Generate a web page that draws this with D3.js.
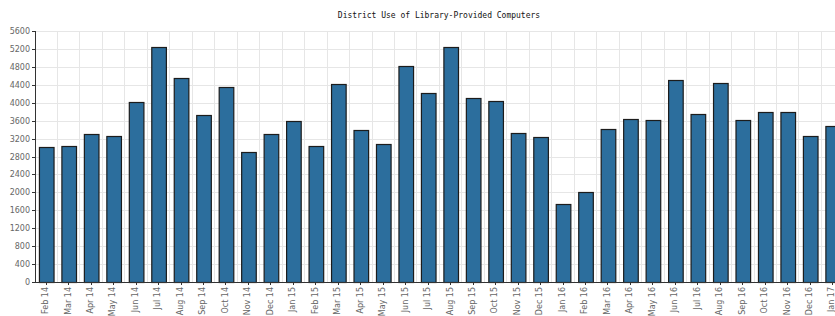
<!DOCTYPE html>
<html>
<head>
<meta charset="utf-8">
<script src="https://cdn.jsdelivr.net/npm/d3@7"></script>
<style>
    body { margin: 0; background: #fff; overflow: hidden; }
    .grid line { stroke: #e6e6e6; }
    .grid path { display: none; }
    .axis text { fill: #666; font-family: "DejaVu Sans", sans-serif; font-size: 8px; }
    .axis path, .axis line { stroke: #333; }
</style>
</head>
<body>
<div id="graph"></div>
<script>
document.addEventListener('DOMContentLoaded', () => {
    const title = 'District Use of Library-Provided Computers';
    const months = ['Feb 14', 'Mar 14', 'Apr 14', 'May 14', 'Jun 14', 'Jul 14', 'Aug 14', 'Sep 14',
        'Oct 14', 'Nov 14', 'Dec 14', 'Jan 15', 'Feb 15', 'Mar 15', 'Apr 15', 'May 15', 'Jun 15',
        'Jul 15', 'Aug 15', 'Sep 15', 'Oct 15', 'Nov 15', 'Dec 15', 'Jan 16', 'Feb 16', 'Mar 16',
        'Apr 16', 'May 16', 'Jun 16', 'Jul 16', 'Aug 16', 'Sep 16', 'Oct 16', 'Nov 16', 'Dec 16', 'Jan 17'];
    const usage = [3010, 3035, 3300, 3265, 4015, 5235, 4545, 3735, 4345, 2895, 3300, 3585,
        3030, 4410, 3390, 3070, 4825, 4210, 5235, 4110, 4030, 3315, 3230, 1740,
        2015, 3405, 3635, 3620, 4500, 3750, 4450, 3605, 3785, 3785, 3250, 3480];
    const yTicks = d3.range(0, 5601, 400);

    const width = 835;
    const height = 316;
    const margin = { top: 31, left: 35, bottom: 34 };
    const plotRight = margin.left + 36 * 22.47; // runs past the window edge

    const xScale = d3.scaleBand()
        .domain(months)
        .range([margin.left, plotRight])
        .paddingInner(0.35)
        .paddingOuter(0.175);

    const yScale = d3.scaleLinear()
        .domain([0, 5600])
        .range([height - margin.bottom, margin.top]);

    const svg = d3.select('#graph')
        .append('svg')
        .attr('width', width)
        .attr('height', height);

    // vertical grid at band edges
    const edge = d => xScale(d) - xScale.step() * xScale.paddingInner() / 2 + xScale.step();
    svg.append('g')
        .attr('class', 'grid')
        .selectAll('line')
        .data(months)
        .enter()
        .append('line')
        .attr('x1', edge)
        .attr('x2', edge)
        .attr('y1', yScale(5600))
        .attr('y2', yScale(0))
        .attr('stroke', '#e6e6e6')
        .attr('shape-rendering', 'crispEdges');

    svg.append('g')
        .attr('class', 'grid')
        .attr('transform', `translate(${margin.left}, 0)`)
        .call(d3.axisLeft(yScale).tickValues(yTicks).tickSize(-(plotRight - margin.left)).tickFormat(''))
        .attr('shape-rendering', 'crispEdges');

    svg.append('g')
        .selectAll('rect')
        .data(usage)
        .enter()
        .append('rect')
        .attr('x', (_d, i) => xScale(months[i]) + 0.5)
        .attr('y', d => Math.round(yScale(d)) + 0.5)
        .attr('width', xScale.bandwidth())
        .attr('height', d => yScale(0) - Math.round(yScale(d)))
        .attr('fill', '#2c6e9d')
        .attr('stroke', '#1c1c1c')
        .attr('stroke-width', 1.2);

    svg.append('g')
        .attr('class', 'axis')
        .attr('transform', `translate(${margin.left}, 0)`)
        .call(d3.axisLeft(yScale).tickValues(yTicks).tickFormat(d3.format('d')).tickSize(3).tickPadding(2))
        .attr('shape-rendering', 'crispEdges');

    svg.append('g')
        .attr('class', 'axis')
        .attr('transform', `translate(0, ${yScale(0)})`)
        .call(d3.axisBottom(xScale).tickSize(3).tickSizeOuter(0))
        .attr('shape-rendering', 'crispEdges')
        .selectAll('text')
        .attr('transform', 'rotate(-90)')
        .attr('text-anchor', 'end')
        .attr('x', -5)
        .attr('y', -1)
        .attr('dy', '0.35em')
        .attr('dx', 0);

    svg.append('text')
        .attr('x', 439)
        .attr('y', 18)
        .attr('text-anchor', 'middle')
        .style('font-family', '"DejaVu Sans Mono", monospace')
        .style('font-size', '8px')
        .attr('fill', '#111')
        .text(title);
}, false);
</script>
</body>
</html>
